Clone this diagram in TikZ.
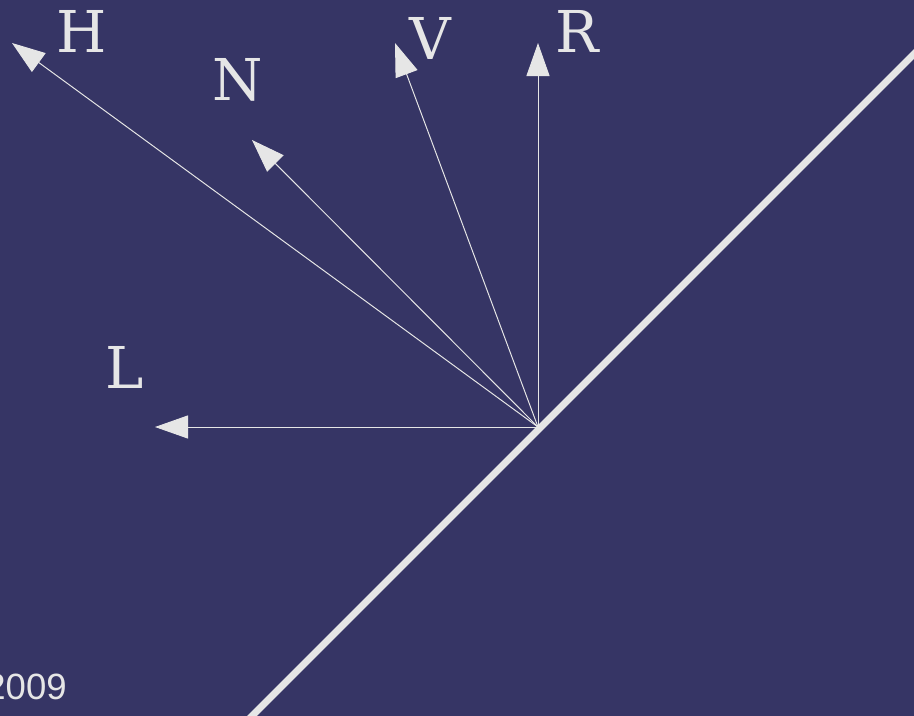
\documentclass[tikz,border=0pt]{standalone}
\usepackage{fontspec}
\setmainfont{DejaVu Serif}
\newfontfamily\yearfont{Liberation Sans}
\usetikzlibrary{arrows.meta}
\definecolor{slate}{RGB}{54,53,101}
\definecolor{chalk}{RGB}{230,230,230}

\begin{document}
\begin{tikzpicture}[x=0.025cm,y=-0.025cm,
  vec/.style={chalk,line width=0.7pt,-{Triangle[length=0.83cm,width=0.58cm]}},
  lbl/.style={chalk,inner sep=0pt,font=\fontsize{41}{48}\selectfont}]
\useasboundingbox (0,0) rectangle (914,716);
\fill[slate] (0,0) rectangle (914,716);
% mirror
\coordinate (m1) at (232,736);
\coordinate (m2) at (934,34);
\draw[chalk,line width=5pt] (m1) -- (m2);
% vectors
\coordinate (O) at (538,427);
\coordinate (Lt) at (155,427);
\coordinate (Ht) at (12,43);
\coordinate (Nt) at (252,140);
\coordinate (Vt) at (395,43);
\coordinate (Rt) at (538,43);
\draw[vec] (O) -- (Lt);
\draw[vec] (O) -- (Ht);
\draw[vec] (O) -- (Nt);
\draw[vec] (O) -- (Vt);
\draw[vec] (O) -- (Rt);
\node[lbl] (L) at (125,367) {L};
\node[lbl] (H) at (82,31) {H};
\node[lbl] (N) at (238,80) {N};
\node[lbl] (V) at (430,38) {V};
\node[lbl] (R) at (577,31) {R};
\node[chalk,anchor=east,inner sep=0pt,font=\yearfont\fontsize{26}{30}\selectfont] (year) at (67,687) {2009};
\end{tikzpicture}
\end{document}
